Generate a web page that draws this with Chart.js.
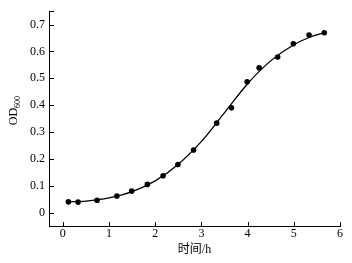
<!DOCTYPE html>
<html>
<head>
<meta charset="utf-8">
<script src="https://cdn.jsdelivr.net/npm/chart.js@4/dist/chart.umd.min.js"></script>
<style>
  html, body { margin: 0; padding: 0; background: #fff; }
  #wrap { width: 352px; height: 263px; }
</style>
</head>
<body>
<div id="wrap"><canvas id="growthChart"></canvas></div>
<script>
// 測定値（時間 h / OD600）
const timeH = [0.12, 0.33, 0.74, 1.17, 1.49, 1.83, 2.17, 2.49, 2.83, 3.33, 3.65, 3.99, 4.25, 4.65, 4.99, 5.33, 5.66];
const od600 = [0.040, 0.039, 0.046, 0.062, 0.080, 0.105, 0.137, 0.179, 0.233, 0.333, 0.390, 0.487, 0.539, 0.579, 0.629, 0.661, 0.670];

// フィット曲線
const fitTime = [0.12, 0.5, 1.0, 1.5, 2.0, 2.5, 3.0, 3.5, 4.0, 4.5, 5.0, 5.33, 5.66];
const fitOD   = [0.040, 0.043, 0.055, 0.078, 0.118, 0.180, 0.265, 0.372, 0.480, 0.565, 0.625, 0.652, 0.670];

const xTicks = [0, 1, 2, 3, 4, 5, 6];
const yTicks = [0, 0.1, 0.2, 0.3, 0.4, 0.5, 0.6, 0.7];

const xTitle = '时间/h';
const yTitleMain = 'OD';
const yTitleSub = '600';

const serif = '"Liberation Serif", "Noto Sans CJK SC", serif';

// 内向きの目盛りとY軸タイトル（下付き文字）を描く
const axisExtras = {
    id: 'axisExtras',
    afterDraw(chart) {
        const ctx = chart.ctx;
        const xs = chart.scales.x, ys = chart.scales.y;
        const area = chart.chartArea;
        ctx.save();
        ctx.strokeStyle = '#000';
        ctx.lineWidth = 1;
        ctx.beginPath();
        xTicks.forEach(v => {
            const px = Math.round(xs.getPixelForValue(v)) + 0.5;
            ctx.moveTo(px, area.bottom);
            ctx.lineTo(px, area.bottom - 4);
        });
        yTicks.concat([ys.max]).forEach(v => {
            const py = Math.round(ys.getPixelForValue(v)) + 0.5;
            ctx.moveTo(area.left, py);
            ctx.lineTo(area.left + 5, py);
        });
        ctx.stroke();

        // OD600
        ctx.translate(17, (area.top + area.bottom) / 2 - 8);
        ctx.rotate(-Math.PI / 2);
        ctx.fillStyle = '#000';
        ctx.textBaseline = 'alphabetic';
        ctx.font = '12px ' + serif;
        const wMain = ctx.measureText(yTitleMain).width;
        ctx.font = '8px ' + serif;
        const wSub = ctx.measureText(yTitleSub).width;
        const x0 = -(wMain + wSub) / 2;
        ctx.font = '12px ' + serif;
        ctx.fillText(yTitleMain, x0, 0);
        ctx.font = '8px ' + serif;
        ctx.fillText(yTitleSub, x0 + wMain, 3);
        ctx.restore();
    }
};

new Chart(document.getElementById('growthChart').getContext('2d'), {
    type: 'scatter',
    data: {
        datasets: [
            {
                label: 'fit',
                data: fitTime.map((t, i) => ({ x: t, y: fitOD[i] })),
                showLine: true,
                borderColor: '#000',
                borderWidth: 1.3,
                pointRadius: 0,
                cubicInterpolationMode: 'monotone',
                fill: false
            },
            {
                label: 'OD600',
                data: timeH.map((t, i) => ({ x: t, y: od600[i] })),
                showLine: false,
                backgroundColor: '#000',
                borderColor: '#000',
                pointRadius: 2.8,
                pointBorderWidth: 0
            }
        ]
    },
    options: {
        responsive: true,
        maintainAspectRatio: false,
        animation: false,
        layout: { padding: { top: 11, right: 12, left: 0, bottom: 0 } },
        plugins: {
            legend: { display: false },
            tooltip: { enabled: false }
        },
        scales: {
            x: {
                type: 'linear',
                min: -0.3,
                max: 6,
                afterBuildTicks: s => { s.ticks = xTicks.map(v => ({ value: v })); },
                afterFit: s => { s.height = 37; },
                grid: { display: false, drawTicks: false },
                border: { display: true, color: '#000', width: 1 },
                ticks: {
                    color: '#000',
                    padding: 1,
                    font: { family: serif, size: 12 },
                    callback: v => String(v)
                },
                title: {
                    display: true,
                    text: xTitle,
                    color: '#000',
                    padding: { top: 1, bottom: 6 },
                    font: { family: serif, size: 12 }
                }
            },
            y: {
                type: 'linear',
                min: -0.05,
                max: 0.75,
                afterBuildTicks: s => { s.ticks = yTicks.map(v => ({ value: v })); },
                afterFit: s => { s.width = 49; },
                grid: { display: false, drawTicks: false },
                border: { display: true, color: '#000', width: 1 },
                ticks: {
                    color: '#000',
                    padding: 4,
                    font: { family: serif, size: 12 },
                    callback: v => (v === 0 ? '0' : v.toFixed(1))
                }
            }
        }
    },
    plugins: [axisExtras]
});
</script>
</body>
</html>
